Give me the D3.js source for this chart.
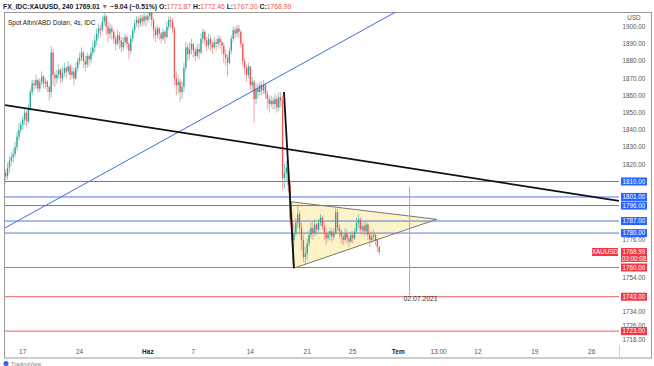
<!DOCTYPE html>
<html><head><meta charset="utf-8">
<script src="https://cdn.jsdelivr.net/npm/d3@7"></script>
<style>body{margin:0;background:#fff;} svg{display:block;font-family:"Liberation Sans",Arial,sans-serif;}</style>
</head><body><svg id="c" width="654" height="366"></svg>
<script>
// ---------- DATA ----------
const startTime = "2021-05-13T12:00"; // first 4h candle
const open0 = 1815;
const closes = [
1813,1818,1822,
1824,1826,1830,1836,1840,1843,
1846,1850,1845,1852,1862,1867,
1866,1869,1864,1868,1871,1867,
1868,1865,1862,1885,1872,1870,
1872,1875,1870,1873,1876,1874,
1877,1872,1874,1870,1876,1880,
1882,1885,1880,1878,1883,1881,
1885,1888,1892,1896,1899,1898,
1903,1906,1900,1896,1899,1897,
1893,1890,1895,1892,1888,1891,
1894,1890,1886,1893,1898,1902,
1904,1902,1905,1903,1906,1904,
1906,1909,1904,1898,1895,1899,
1896,1893,1897,1894,1900,1904,
1903,1899,1870,1866,1868,1862,
1865,1876,1888,1884,1887,1890,
1886,1883,1887,1885,1893,1897,
1892,1889,1893,1890,1888,1891,
1890,1893,1891,1889,1884,1882,
1879,1886,1893,1898,1896,1899,
1897,1890,1880,1876,1872,1877,
1866,1868,1858,1864,1862,1866,
1863,1866,1861,1858,1855,1857,
1855,1858,1853,1859,1857,1812,
1815,1818,1808,1788,1776,1780,
1786,1791,1783,1776,1766,1768,
1774,1779,1783,1780,1785,1782,
1786,1789,1784,1780,1777,1779,
1781,1778,1780,1792,1783,1781,
1778,1776,1780,1777,1775,1779,
1777,1781,1786,1788,1782,1784,
1781,1785,1779,1776,1778,1779,
1776,1771.87,1768.99];
const highs = [
1817,1821,1825,
1827,1829,1833,1839,1844,1845,
1848,1853,1851,1855,1864,1869,
1869,1872,1870,1870,1874,1872,
1870,1869,1866,1889,1887,1874,
1875,1878,1876,1877,1879,1877,
1880,1878,1877,1876,1879,1882,
1885,1888,1886,1883,1885,1884,
1888,1891,1895,1899,1902,1901,
1906,1909,1907,1903,1902,1901,
1898,1895,1898,1897,1894,1894,
1896,1895,1891,1895,1900,1904,
1906,1906,1907,1907,1908,1907,
1909,1913,1911,1905,1900,1901,
1900,1897,1899,1898,1903,1906,
1906,1905,1900,1874,1872,1870,
1868,1879,1891,1890,1891,1893,
1891,1888,1890,1890,1896,1899,
1898,1894,1896,1895,1892,1894,
1893,1895,1895,1893,1891,1887,
1884,1888,1895,1900,1900,1901,
1901,1898,1891,1882,1878,1879,
1872,1871,1869,1867,1867,1868,
1868,1869,1867,1863,1860,1860,
1859,1861,1860,1862,1862,1860,
1820,1822,1819,1810,1792,1785,
1789,1796,1793,1786,1779,1772,
1777,1782,1786,1787,1788,1786,
1788,1791,1790,1786,1783,1781,
1783,1782,1783,1795,1794,1785,
1782,1780,1783,1782,1779,1781,
1781,1783,1789,1791,1789,1786,
1786,1787,1786,1781,1781,1782,
1780,1777,1772.46];
const lows = [
1809,1811,1815,
1819,1821,1824,1828,1834,1838,
1840,1843,1842,1844,1851,1860,
1863,1864,1862,1862,1866,1864,
1864,1862,1857,1859,1866,1865,
1867,1870,1867,1868,1871,1870,
1872,1869,1870,1866,1869,1874,
1878,1880,1876,1874,1876,1877,
1879,1883,1885,1889,1893,1894,
1897,1901,1895,1891,1893,1892,
1890,1886,1889,1887,1885,1886,
1889,1887,1881,1884,1891,1896,
1900,1899,1900,1900,1901,1900,
1902,1904,1900,1893,1891,1893,
1892,1890,1892,1890,1893,1898,
1899,1896,1866,1860,1861,1856,
1858,1862,1874,1880,1881,1884,
1882,1880,1882,1881,1884,1890,
1889,1886,1887,1886,1884,1887,
1886,1888,1887,1884,1879,1877,
1871,1878,1884,1891,1893,1894,
1893,1888,1877,1872,1868,1870,
1863,1862,1844,1855,1858,1860,
1860,1861,1858,1852,1850,1853,
1852,1852,1850,1851,1853,1805,
1806,1810,1804,1785,1772,1772,
1778,1783,1779,1770,1763,1762,
1764,1772,1777,1776,1778,1779,
1781,1784,1782,1776,1773,1775,
1776,1775,1776,1779,1781,1777,
1774,1773,1775,1774,1772,1774,
1774,1776,1780,1783,1779,1780,
1778,1779,1776,1772,1774,1775,
1773,1769,1767.30];

const blueLevels = [1810, 1801, 1796, 1787, 1780];
const redLevels = [1760, 1743, 1723];
const priceTicks = [1910,1900,1890,1880,1870,1860,1850,1840,1830,1820,1776,1754,1734,1726,1718];
const timeTickLabels = ["17","24","Haz","7","14","21","25","Tem","13:00","12","19","26"];
const timeTickDates = ["2021-05-17T00:00","2021-05-24T00:00","2021-06-01T00:00","2021-06-07T00:00","2021-06-14T00:00","2021-06-21T00:00","2021-06-25T00:00","2021-07-01T00:00","2021-07-06T13:00","2021-07-12T00:00","2021-07-19T00:00","2021-07-26T00:00"];
const boldTicks = ["Haz","Tem"];
const blackTrend = [["2021-05-13T12:00",1854.4],["2021-07-26T00:00",1801.2]];
const blueTrend = [["2021-05-13T12:00",1783.2],["2021-06-28T00:00",1898.4]];
const dropLine = [["2021-06-16T23:00",1862],["2021-06-17T20:10",1759.7]];
const triangle = [["2021-06-17T13:55",1798.2],["2021-07-06T09:07",1788],["2021-06-17T18:43",1759.5]];
const vLine = {date:"2021-07-02T00:00", from:1807, to:1744, label:"02.07.2021"};
const lastPrice = 1768.99, countdown = "03:00:08", symbol = "XAUUSD";
const headerParts = [
  {t:"FX_IDC:XAUUSD, 240 ", c:"#131722", w:"bold"},
  {t:"1769.01 ", c:"#131722", w:"bold"},
  {t:"▼ ", c:"#ef5350", w:"normal"},
  {t:"−9.04 (−0.51%) ", c:"#131722", w:"bold"},
  {t:"O:", c:"#131722", w:"bold"},{t:"1771.87 ", c:"#ef5350", w:"normal"},
  {t:"H:", c:"#131722", w:"bold"},{t:"1772.46 ", c:"#ef5350", w:"normal"},
  {t:"L:", c:"#131722", w:"bold"},{t:"1767.30 ", c:"#ef5350", w:"normal"},
  {t:"C:", c:"#131722", w:"bold"},{t:"1768.99", c:"#ef5350", w:"normal"}
];
const legendText = "Spot Altın/ABD Doları, 4s, IDC";

// ---------- HELPERS ----------
const BASE = Date.UTC(2021,4,17);
function tday(s){
  const d = new Date(s+":00Z").getTime();
  const f = (d-BASE)/864e5;
  const days = Math.floor(f), frac = f-days;
  const weeks = Math.floor(days/7), rem = days - weeks*7;
  return weeks*5 + Math.min(rem,5) + (rem<5?frac:0);
}
const candles = [];
{
  let d = new Date(startTime+":00Z").getTime(), o = open0;
  for (let i=0;i<closes.length;i++){
    while ([0,6].includes(new Date(d).getUTCDay())) d += 4*3600e3;
    const iso = new Date(d).toISOString().slice(0,16);
    const c = closes[i];
    candles.push({t:tday(iso), o, c, h:Math.max(highs[i],o,c), l:Math.min(lows[i],o,c)});
    o = c; d += 4*3600e3;
  }
}

// ---------- LAYOUT ----------
const pane = {l:5, r:619, t:12, b:345};
const x = d3.scaleLinear().domain([tday("2021-05-17T00:00"), tday("2021-07-26T00:00")]).range([22.7, 591.7]);
const y = d3.scaleLinear().domain([1718, 1910]).range([339.7, 9.5]);

const svg = d3.select("#c");
svg.append("defs").append("clipPath").attr("id","pane").append("rect")
  .attr("x",pane.l).attr("y",pane.t).attr("width",pane.r-pane.l).attr("height",pane.b-pane.t);
svg.select("defs").append("clipPath").attr("id","axisclip").append("rect")
  .attr("x",pane.r).attr("y",pane.t).attr("width",40).attr("height",pane.b-pane.t);

svg.append("rect").attr("x",4.5).attr("y",12.5).attr("width",647).attr("height",345.5)
  .attr("fill","none").attr("stroke","#9a9a9a").attr("stroke-width",1);
svg.append("line").attr("x1",pane.r+0.5).attr("x2",pane.r+0.5).attr("y1",pane.b).attr("y2",358)
  .attr("stroke","#d0d0d0");

const g = svg.append("g").attr("clip-path","url(#pane)");

g.append("path").attr("d", d3.line()(triangle.map(p=>[x(tday(p[0])), y(p[1])])) + "Z")
  .attr("fill","#fdf3c8").attr("stroke","#555").attr("stroke-width",0.8);

g.selectAll(".bl").data(blueLevels).join("line")
  .attr("x1",pane.l).attr("x2",pane.r).attr("y1",d=>y(d)).attr("y2",d=>y(d))
  .attr("stroke","#5577e2").attr("stroke-width",1);
g.selectAll(".rl").data(redLevels).join("line")
  .attr("x1",pane.l).attr("x2",pane.r).attr("y1",d=>y(d)).attr("y2",d=>y(d))
  .attr("stroke","#e6605f").attr("stroke-width",1);

g.append("line").attr("x1",x(tday(vLine.date))).attr("x2",x(tday(vLine.date)))
  .attr("y1",y(vLine.from)).attr("y2",y(vLine.to)).attr("stroke","#f08a8c").attr("stroke-width",1);
g.append("text").attr("x",x(tday(vLine.date))+11).attr("y",y(vLine.to)+6.5)
  .attr("text-anchor","middle").attr("font-size",6.8).attr("fill","#333").text(vLine.label);

const cg = g.append("g");
cg.selectAll("line").data(candles).join("line")
  .attr("x1",d=>x(d.t)).attr("x2",d=>x(d.t)).attr("y1",d=>y(d.h)).attr("y2",d=>y(d.l))
  .attr("stroke",d=>d.c>=d.o?"#4dbcae":"#f07a7c").attr("stroke-width",0.7);
cg.selectAll("rect").data(candles).join("rect")
  .attr("x",d=>x(d.t)-0.65).attr("width",1.3)
  .attr("y",d=>y(Math.max(d.o,d.c))).attr("height",d=>Math.max(0.7, Math.abs(y(d.o)-y(d.c))))
  .attr("fill",d=>d.c>=d.o?"#26a69a":"#ef5350");

function extLine(pts, stroke, w){
  const t0 = tday(pts[0][0]), t1 = tday(pts[1][0]);
  const slope = (pts[1][1]-pts[0][1])/(t1-t0);
  const ta = x.invert(pane.l), tb = x.invert(pane.r);
  g.append("line").attr("x1",x(ta)).attr("y1",y(pts[0][1]+slope*(ta-t0)))
    .attr("x2",x(tb)).attr("y2",y(pts[0][1]+slope*(tb-t0)))
    .attr("stroke",stroke).attr("stroke-width",w);
}
extLine(blueTrend, "#3f6be3", 1);
extLine(blackTrend, "#111", 1.8);
g.append("path").attr("d", d3.line()(dropLine.map(p=>[x(tday(p[0])), y(p[1])])))
  .attr("stroke","#111").attr("stroke-width",1.8).attr("fill","none");

const ax = svg.append("g").attr("clip-path","url(#axisclip)");
ax.selectAll("text.pt").data(priceTicks).join("text").attr("class","pt")
  .attr("x",634).attr("y",d=>y(d)+2.3).attr("text-anchor","middle")
  .attr("font-size",6.3).attr("fill","#555").text(d=>d.toFixed(2));
ax.append("text").attr("x",634).attr("y",y(1910)+10).attr("text-anchor","middle")
  .attr("font-size",6.3).attr("fill","#555").text("USD");

function box(v, col){
  ax.append("rect").attr("x",621).attr("y",y(v)-4).attr("width",26).attr("height",8).attr("fill",col);
  ax.append("text").attr("x",634).attr("y",y(v)+2.3).attr("text-anchor","middle")
    .attr("font-size",6.3).attr("fill","#fff").text(v.toFixed(2));
}
blueLevels.forEach(v=>box(v,"#2962ff"));
redLevels.forEach(v=>box(v,"#f23645"));
ax.append("rect").attr("x",621).attr("y",y(lastPrice)-4).attr("width",26).attr("height",14).attr("fill","#f23645");
ax.append("text").attr("x",634).attr("y",y(lastPrice)+2.3).attr("text-anchor","middle")
  .attr("font-size",6.3).attr("fill","#fff").text(lastPrice.toFixed(2));
ax.append("text").attr("x",634).attr("y",y(lastPrice)+8.8).attr("text-anchor","middle")
  .attr("font-size",6.3).attr("fill","#fff").text(countdown);
svg.append("rect").attr("x",592).attr("y",y(lastPrice)-4).attr("width",26).attr("height",8).attr("fill","#f23645");
svg.append("text").attr("x",605).attr("y",y(lastPrice)+2.3).attr("text-anchor","middle")
  .attr("font-size",6.3).attr("fill","#fff").text(symbol);

svg.selectAll("text.tt").data(timeTickLabels).join("text").attr("class","tt")
  .attr("x",(d,i)=>x(tday(timeTickDates[i]))).attr("y",353.5).attr("text-anchor","middle")
  .attr("font-size",6.5).attr("fill",d=>boldTicks.includes(d)?"#222":"#555")
  .attr("font-weight",d=>boldTicks.includes(d)?"bold":"normal").text(d=>d);

const ht = svg.append("text").attr("x",3).attr("y",9.3).attr("font-size",6.8);
headerParts.forEach(p=>ht.append("tspan").attr("fill",p.c).attr("font-weight",p.w).text(p.t));
svg.append("text").attr("x",8).attr("y",25).attr("font-size",6.5).attr("fill","#222").text(legendText);

svg.append("circle").attr("cx",6).attr("cy",363.5).attr("r",2.5).attr("fill","#2962ff");
svg.append("text").attr("x",11).attr("y",365.5).attr("font-size",5.5).attr("fill","#888").text("TradingView");
</script></body></html>
